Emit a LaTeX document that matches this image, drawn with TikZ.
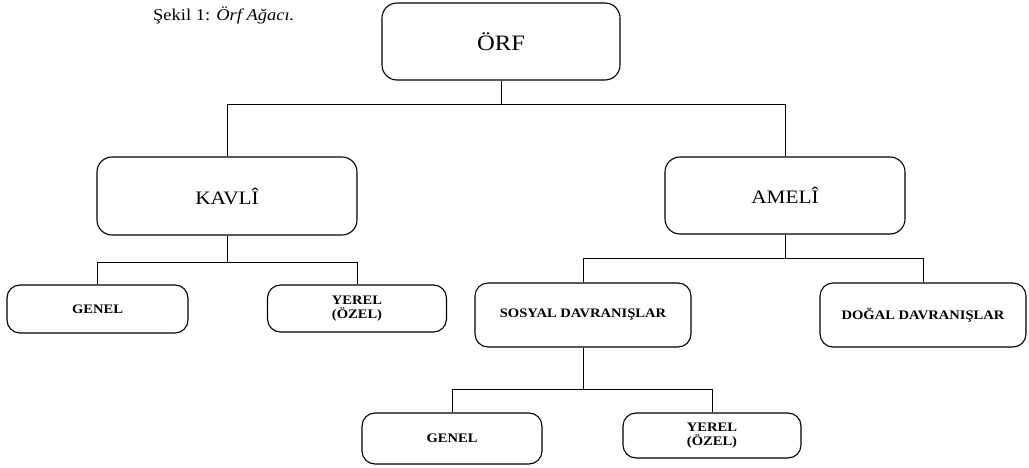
\documentclass[tikz,border=0pt]{standalone}
\usepackage{fontspec}
\setmainfont{Liberation Serif}[FakeStretch=1.12]
\begin{document}
\begin{tikzpicture}[x=1pt,y=-1pt,
  box/.style={draw, rounded corners=15pt, line width=1.1pt, inner sep=0pt, align=center},
  bigbox/.style={box, font=\fontsize{19}{22}\selectfont},
  smallbox/.style={box, rounded corners=13pt, font=\bfseries\fontsize{13}{14.5}\selectfont},
  conn/.style={line width=0.8pt}]
\useasboundingbox (0,0) rectangle (1029,468);
% caption
\node[anchor=base west, inner sep=0pt, font=\fontsize{16.5}{18}\selectfont] (cap) at (153,21) {Şekil 1: \textit{Örf Ağacı.}};
% nodes
\node[bigbox, minimum width=238pt, minimum height=77pt, font=\fontsize{22}{24}\selectfont] (orf) at (501,41.5) {ÖRF};
\node[bigbox, minimum width=260pt, minimum height=78pt] (kavli) at (227,196) {KAVLÎ};
\node[bigbox, minimum width=240pt, minimum height=77pt] (ameli) at (785,195.5) {AMELÎ};
\node[smallbox, minimum width=181pt, minimum height=48pt] (genel1) at (97.5,309) {GENEL};
\node[smallbox, minimum width=179pt, minimum height=47pt] (yerel1) at (357,308.5) {YEREL\\(ÖZEL)};
\node[smallbox, minimum width=216pt, minimum height=64pt] (sosyal) at (583,315) {SOSYAL DAVRANIŞLAR};
\node[smallbox, minimum width=206pt, minimum height=64pt] (dogal) at (923,315) {DOĞAL DAVRANIŞLAR};
\node[smallbox, minimum width=180pt, minimum height=51pt] (genel2) at (452,438.5) {GENEL};
\node[smallbox, minimum width=178pt, minimum height=45pt] (yerel2) at (712,435.5) {YEREL\\(ÖZEL)};
% bar levels
\coordinate (b1) at (0,104);
\coordinate (b2) at (0,262);
\coordinate (b3) at (0,258);
\coordinate (b4) at (0,389);
% connectors
\draw[conn] (orf.south) -- (orf.south |- b1);
\draw[conn] (kavli.north) |- (b1 -| ameli.north) -- (ameli.north);
\draw[conn] (kavli.south) -- (kavli.south |- b2);
\draw[conn] (genel1.north) |- (b2 -| yerel1.north) -- (yerel1.north);
\draw[conn] (ameli.south) -- (ameli.south |- b3);
\draw[conn] (sosyal.north) |- (b3 -| dogal.north) -- (dogal.north);
\draw[conn] (sosyal.south) -- (sosyal.south |- b4);
\draw[conn] (genel2.north) |- (b4 -| yerel2.north) -- (yerel2.north);
\end{tikzpicture}
\end{document}
